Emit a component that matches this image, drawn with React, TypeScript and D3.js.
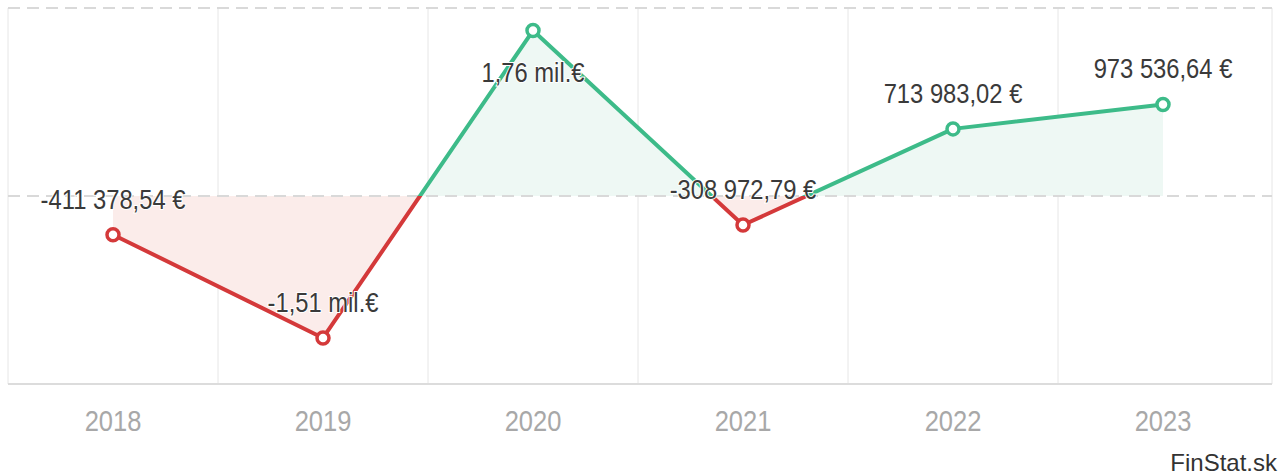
import * as d3 from "d3";

const years = ["2018", "2019", "2020", "2021", "2022", "2023"];
const values = [-411378.54, -1510000, 1760000, -308972.79, 713983.02, 973536.64];
const yDomain = [-2000000, 2000000];

const GREEN = "#3dbb89";
const RED = "#d4393a";
const FONT = "'Liberation Sans', Arial, sans-serif";

function formatValue(v: number): string {
  if (Math.abs(v) >= 1e6) {
    return (v / 1e6).toFixed(2).replace(".", ",") + " mil.€";
  }
  const sign = v < 0 ? "-" : "";
  const [int, dec] = Math.abs(v).toFixed(2).split(".");
  const grouped = int.replace(/\B(?=(\d{3})+(?!\d))/g, " ");
  return `${sign}${grouped},${dec} €`;
}

export default function App() {
  const width = 1280;
  const height = 476;
  const left = 8;
  const right = 1272;
  const top = 8;
  const bottom = 384;

  const x = d3.scaleBand<string>().domain(years).range([left, 1268]).padding(0);
  const y = d3.scaleLinear().domain(yDomain).range([bottom, top]);
  const cx = (i: number) => (x(years[i]) ?? 0) + x.bandwidth() / 2;
  const zero = y(0);

  const pts: [number, number][] = values.map((v, i) => [cx(i), y(v)]);
  const line = d3.line<[number, number]>().x((d) => d[0]).y((d) => d[1]);
  const area = d3
    .area<[number, number]>()
    .x((d) => d[0])
    .y0(zero)
    .y1((d) => d[1]);

  const gridXs = years.slice(1).map((yr) => x(yr) ?? 0);
  const textTf = (tx: number, ty: number, sx: number) =>
    `translate(${tx},${ty}) scale(${sx},1)`;

  return (
    <svg
      width={width}
      height={height}
      style={{ position: "absolute", left: 0, top: 0, background: "#fff" }}
    >
      <defs>
        <clipPath id="pos">
          <rect x={0} y={0} width={width} height={zero} />
        </clipPath>
        <clipPath id="neg">
          <rect x={0} y={zero} width={width} height={height - zero} />
        </clipPath>
      </defs>

      {/* frame and grid */}
      {gridXs.map((gx, i) => (
        <line key={i} x1={gx} x2={gx} y1={top} y2={bottom} stroke="#e6e6e6" strokeWidth={1} />
      ))}
      <line x1={left} x2={left} y1={top} y2={bottom} stroke="#e6e6e6" />
      <line x1={right} x2={right} y1={top} y2={bottom} stroke="#e6e6e6" />
      <line x1={left} x2={right} y1={bottom} y2={bottom} stroke="#dcdcdc" strokeWidth={2} />
      <line x1={left} x2={right} y1={top} y2={top} stroke="#d9d9d9" strokeWidth={2} strokeDasharray="12,7" />

      {/* areas */}
      <path d={area(pts) || ""} fill="#eef8f4" clipPath="url(#pos)" />
      <path d={area(pts) || ""} fill="#fbecea" clipPath="url(#neg)" />

      <line x1={left} x2={right} y1={zero} y2={zero} stroke="#d9d9d9" strokeWidth={2} strokeDasharray="12,7" />

      {/* lines */}
      <path d={line(pts) || ""} fill="none" stroke={GREEN} strokeWidth={4} strokeLinejoin="round" clipPath="url(#pos)" />
      <path d={line(pts) || ""} fill="none" stroke={RED} strokeWidth={4} strokeLinejoin="round" clipPath="url(#neg)" />

      {/* markers */}
      {pts.map((p, i) => (
        <circle
          key={i}
          cx={p[0]}
          cy={p[1]}
          r={6}
          fill="#fff"
          stroke={values[i] >= 0 ? GREEN : RED}
          strokeWidth={3.5}
        />
      ))}

      {/* data labels */}
      {pts.map((p, i) => {
        const above = p[1] - 26;
        const ty = above - 20 < top ? p[1] + 51 : above;
        return (
          <text
            key={i}
            transform={textTf(p[0], ty, 0.88)}
            textAnchor="middle"
            fontFamily={FONT}
            fontSize={27}
            fill="#3a3a3a"
            stroke="#fff"
            strokeWidth={2}
            paintOrder="stroke"
          >
            {formatValue(values[i])}
          </text>
        );
      })}

      {/* x axis labels */}
      {years.map((yr, i) => (
        <text
          key={yr}
          transform={textTf(cx(i), 431, 0.88)}
          textAnchor="middle"
          fontFamily={FONT}
          fontSize={29}
          fill="#a8a8a8"
        >
          {yr}
        </text>
      ))}

      <text x={1277} y={471} textAnchor="end" fontFamily={FONT} fontSize={24} fill="#333">
        FinStat.sk
      </text>
    </svg>
  );
}
